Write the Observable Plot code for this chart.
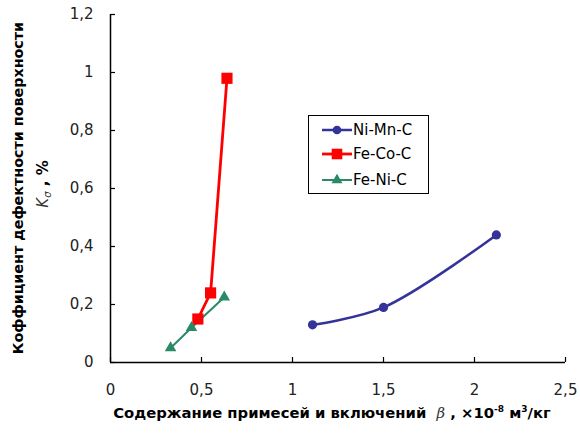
<!DOCTYPE html>
<html>
<head>
<meta charset="utf-8">
<script src="https://cdn.jsdelivr.net/npm/d3@7"></script>
<script src="https://cdn.jsdelivr.net/npm/@observablehq/plot@0.6"></script>
<style>
  html, body { margin: 0; padding: 0; background: #fff; }
  #chart { width: 580px; height: 434px; }
</style>
</head>
<body>
<div id="chart"></div>
<script>
// Data
const seriesNames = ["Ni-Mn-C", "Fe-Co-C", "Fe-Ni-C"];
const seriesColors = ["#333399", "#ff0000", "#2a8a66"];
const seriesSymbols = ["circle", "square", "triangle"];
const niMnC_x = [1.11, 1.50, 2.12];
const niMnC_y = [0.13, 0.19, 0.44];
const feCoC_x = [0.48, 0.55, 0.64];
const feCoC_y = [0.15, 0.24, 0.98];
const feNiC_x = [0.33, 0.445, 0.625];
const feNiC_y = [0.05, 0.12, 0.225];
const xTicks = [0, 0.5, 1, 1.5, 2, 2.5];
const yTicks = [0, 0.2, 0.4, 0.6, 0.8, 1, 1.2];

const toRows = (name, xs, ys) => xs.map((x, i) => ({series: name, x, y: ys[i]}));
const rows = [
  toRows(seriesNames[0], niMnC_x, niMnC_y),
  toRows(seriesNames[1], feCoC_x, feCoC_y),
  toRows(seriesNames[2], feNiC_x, feNiC_y)
];
const fmt = d => String(d).replace(".", ",");
const FONT = "'DejaVu Sans', sans-serif";

const marks = [
  Plot.axisX({ticks: xTicks, tickFormat: fmt, tickSize: 0, tickPadding: 22, fontSize: 15, label: null, fill: "#222"}),
  Plot.axisY({ticks: yTicks, tickFormat: fmt, tickSize: 0, tickPadding: 17, fontSize: 15, label: null, fill: "#222"}),
  Plot.axisX({ticks: xTicks, tickSize: -5, tickFormat: () => "", label: null, strokeWidth: 1.2}),
  Plot.axisY({ticks: yTicks, tickSize: -5, tickFormat: () => "", label: null, strokeWidth: 1.2}),
  Plot.ruleX([0], {stroke: "#000", strokeWidth: 1.5}),
  Plot.ruleY([0], {stroke: "#000", strokeWidth: 1.5})
];
const curves = ["catmull-rom", "linear", "linear"];
const widths = [2.5, 2.8, 2];
const radii = [4.6, 6.3, 4.3];
rows.forEach((data, i) => {
  marks.push(Plot.line(data, {x: "x", y: "y", stroke: seriesColors[i], strokeWidth: widths[i], curve: curves[i]}));
});
rows.forEach((data, i) => {
  marks.push(Plot.dot(data, {x: "x", y: "y", fill: seriesColors[i], stroke: "none", symbol: () => seriesSymbols[i], r: radii[i]}));
});

const chart = Plot.plot({
  width: 580,
  height: 434,
  marginLeft: 110,
  marginRight: 15,
  marginTop: 14,
  marginBottom: 72,
  style: {fontFamily: FONT, fontSize: "15px", background: "#fff", color: "#000"},
  x: {domain: [0, 2.5]},
  y: {domain: [0, 1.2]},
  symbol: {type: "identity"},
  marks
});
document.getElementById("chart").appendChild(chart);

// Titles and legend added into the SVG
const svg = d3.select(chart);
// Y title
const yt = svg.append("g").attr("transform", "translate(23,188) rotate(-90)")
  .attr("font-family", FONT).attr("text-anchor", "middle").attr("fill", "#000");
yt.append("text").attr("font-weight", "bold").attr("font-size", 14.3).attr("y", 0)
  .text("Коффициент дефектности поверхности");
const yt2 = yt.append("text").attr("y", 25).attr("font-size", 15).attr("x", 4);
yt2.append("tspan").attr("font-style", "italic").attr("fill", "#333").text("K");
yt2.append("tspan").attr("font-style", "italic").attr("fill", "#333").attr("font-size", 10).attr("dy", 3).text("σ");
yt2.append("tspan").attr("dy", -3).attr("font-weight", "bold").text(" , %");

// X title
const xt = svg.append("text").attr("x", 332).attr("y", 418).attr("text-anchor", "middle")
  .attr("font-family", FONT).attr("font-size", 14.8).attr("font-weight", "bold").attr("fill", "#000");
xt.append("tspan").text("Содержание примесей и включений  ");
xt.append("tspan").attr("font-style", "italic").attr("font-weight", "normal").attr("font-family", "'DejaVu Serif', serif").attr("fill", "#333").text("β");
xt.append("tspan").text(" , ×10");
xt.append("tspan").attr("font-size", 9).attr("dy", -6).text("-8");
xt.append("tspan").attr("dy", 6).text(" м");
xt.append("tspan").attr("font-size", 9).attr("dy", -6).text("3");
xt.append("tspan").attr("dy", 6).text("/кг");

// Legend
const lg = svg.append("g").attr("font-family", FONT).attr("text-anchor", "start");
lg.append("rect").attr("x", 308.5).attr("y", 115.5).attr("width", 120).attr("height", 78)
  .attr("fill", "#fff").attr("stroke", "#000").attr("stroke-width", 1);
const legendY = [130, 154, 180];
seriesNames.forEach((name, i) => {
  const gy = legendY[i];
  lg.append("line").attr("x1", 322).attr("x2", 352).attr("y1", gy).attr("y2", gy)
    .attr("stroke", seriesColors[i]).attr("stroke-width", widths[i]);
  const sym = {circle: d3.symbolCircle, square: d3.symbolSquare, triangle: d3.symbolTriangle}[seriesSymbols[i]];
  lg.append("path").attr("d", d3.symbol(sym, Math.PI * radii[i] * radii[i] * 0.9)())
    .attr("transform", `translate(337,${gy})`).attr("fill", seriesColors[i]);
  lg.append("text").attr("x", 353).attr("y", gy).attr("dy", "0.35em").attr("font-size", 15)
    .attr("fill", "#000").text(name);
});
</script>
</body>
</html>
